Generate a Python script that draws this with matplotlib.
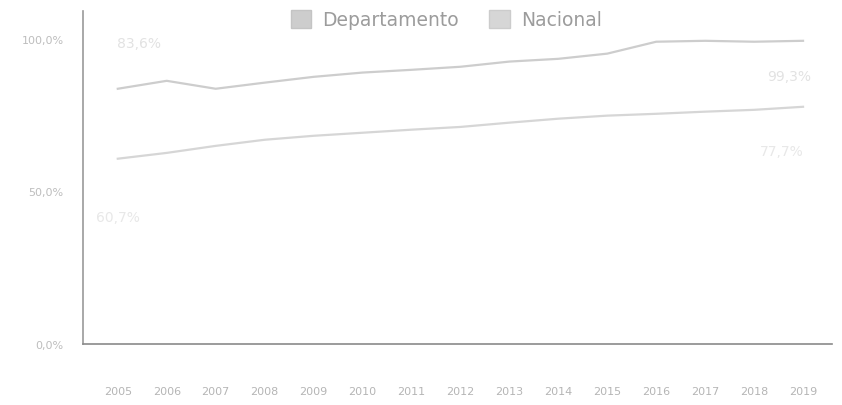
import matplotlib.pyplot as plt
from matplotlib.patches import Patch

years = ['2005', '2006', '2007', '2008', '2009', '2010', '2011', '2012',
         '2013', '2014', '2015', '2016', '2017', '2018', '2019']
departamento = [83.6, 86.2, 83.6, 85.6, 87.5, 88.9, 89.8, 90.8,
                92.5, 93.4, 95.1, 99.0, 99.3, 99.0, 99.3]
nacional = [60.7, 62.6, 64.9, 66.9, 68.2, 69.2, 70.2, 71.1,
            72.5, 73.8, 74.8, 75.4, 76.1, 76.7, 77.7]
yticks = [0, 50, 100]
ytick_labels = ['0,0%', '50,0%', '100,0%']

col_dep = '#cdcdcd'
col_nac = '#d6d6d6'

fig = plt.figure(figsize=(8.42, 4.06), dpi=100)
ax = fig.add_axes([0.0986, 0.150, 0.89, 0.82])

x = range(len(years))
ax.plot(x, departamento, color=col_dep, lw=1.6)
ax.plot(x, nacional, color=col_nac, lw=1.6)

# labels at the ends of each series
fmt = lambda v: f'{v:.1f}%'.replace('.', ',')
ax.annotate(fmt(departamento[0]), (0, departamento[0]), xytext=(15, 30),
            textcoords='offset points', ha='center', color='#e2e2e2', fontsize=10)
ax.annotate(fmt(departamento[-1]), (len(years) - 1, departamento[-1]), xytext=(-10, -28),
            textcoords='offset points', ha='center', color='#e2e2e2', fontsize=10)
ax.annotate(fmt(nacional[0]), (0, nacional[0]), xytext=(0, -45),
            textcoords='offset points', ha='center', color='#e8e8e8', fontsize=10)
ax.annotate(fmt(nacional[-1]), (len(years) - 1, nacional[-1]), xytext=(-15, -35),
            textcoords='offset points', ha='center', color='#e8e8e8', fontsize=10)

ax.set_xlim(-0.71, len(years) - 1 + 0.6)
ax.set_ylim(0, 109)
ax.set_xticks(list(x))
ax.set_xticklabels(years, fontsize=8, color='#b5b5b5')
ax.set_yticks(yticks)
ax.set_yticklabels(ytick_labels, fontsize=8, color='#bdbdbd')
ax.tick_params(axis='x', length=0, pad=30)
ax.tick_params(axis='y', length=0, pad=14)

for s in ['top', 'right']:
    ax.spines[s].set_visible(False)
ax.spines['left'].set_color('#9a9a9a')
ax.spines['bottom'].set_color('#8a8a8a')
ax.spines['left'].set_linewidth(1.2)
ax.spines['bottom'].set_linewidth(1.2)

handles = [Patch(facecolor=col_dep, edgecolor='#c4c4c4', label='Departamento'),
           Patch(facecolor=col_nac, edgecolor='#cccccc', label='Nacional')]
leg = fig.legend(handles=handles, loc='upper center', bbox_to_anchor=(0.53, 1.015), ncol=2,
                 frameon=False, fontsize=13.5, handlelength=1.1, handleheight=1.1,
                 columnspacing=1.6, handletextpad=0.6)
for t in leg.get_texts():
    t.set_color('#9c9c9c')

fig.savefig('out.png', dpi=100)
